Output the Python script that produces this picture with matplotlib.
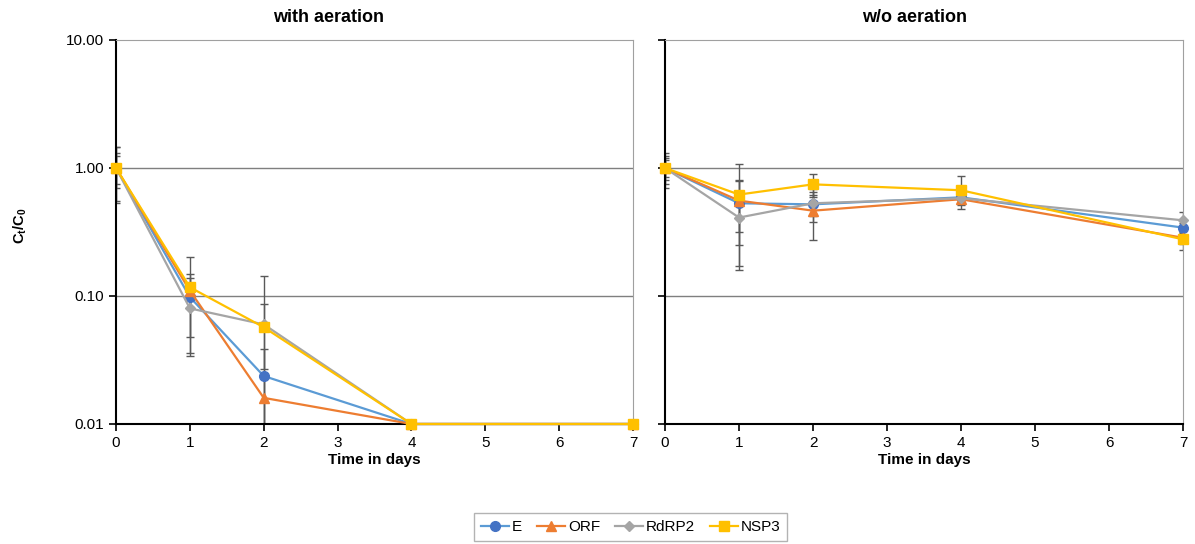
import numpy as np
import matplotlib.pyplot as plt
from matplotlib.ticker import FixedLocator, FixedFormatter, NullLocator

plt.rcParams['font.family'] = ['Liberation Sans', 'DejaVu Sans']
plt.rcParams['mathtext.fontset'] = 'custom'
plt.rcParams['mathtext.bf'] = 'Liberation Sans:bold'
plt.rcParams['mathtext.rm'] = 'Liberation Sans'

days = [0, 1, 2, 4, 7]
genes = ['E', 'ORF', 'RdRP2', 'NSP3']

# with aeration (Ct/C0), 0.01 = below detection
aer_E = [1.0, 0.098, 0.0237, 0.01, 0.01]
aer_ORF = [1.0, 0.110, 0.016, 0.01, 0.01]
aer_RdRP2 = [1.0, 0.080, 0.060, 0.01, 0.01]
aer_NSP3 = [1.0, 0.117, 0.057, 0.01, 0.01]
aer_E_sd = [0.45, 0.050, 0.015, 0, 0]
aer_ORF_sd = [0.30, 0.028, 0.008, 0, 0]
aer_RdRP2_sd = [0.47, 0.044, 0.083, 0, 0]
aer_NSP3_sd = [0.25, 0.083, 0.030, 0, 0]

# w/o aeration
noaer_E = [1.0, 0.53, 0.52, 0.59, 0.342]
noaer_ORF = [1.0, 0.556, 0.464, 0.57, 0.285]
noaer_RdRP2 = [1.0, 0.41, 0.53, 0.58, 0.39]
noaer_NSP3 = [1.0, 0.62, 0.745, 0.67, 0.277]
noaer_E_sd = [0.30, 0.28, 0.10, 0.06, 0.03]
noaer_ORF_sd = [0.25, 0.24, 0.19, 0.06, 0.03]
noaer_RdRP2_sd = [0.20, 0.25, 0.15, 0.06, 0.06]
noaer_NSP3_sd = [0.15, 0.45, 0.15, 0.19, 0.05]

line_cols = ['#5B9BD5', '#ED7D31', '#A5A5A5', '#FFC000']
mark_cols = ['#4472C4', '#ED7D31', '#A5A5A5', '#FFC000']
markers = ['o', '^', 'D', 's']
msizes = [7, 7, 5, 7]

yticks = [0.01, 0.1, 1, 10]
ylabels = ['0.01', '0.10', '1.00', '10.00']

fig = plt.figure(figsize=(11.95, 5.44), dpi=100)
ax1 = fig.add_axes([0.0971, 0.2206, 0.4326, 0.7059])
ax2 = fig.add_axes([0.5565, 0.2206, 0.4335, 0.7059])

panels = [
    (ax1, 'with aeration', 329, [aer_E, aer_ORF, aer_RdRP2, aer_NSP3],
     [aer_E_sd, aer_ORF_sd, aer_RdRP2_sd, aer_NSP3_sd]),
    (ax2, 'w/o aeration', 915, [noaer_E, noaer_ORF, noaer_RdRP2, noaer_NSP3],
     [noaer_E_sd, noaer_ORF_sd, noaer_RdRP2_sd, noaer_NSP3_sd]),
]

handles = []
for ax, title, tx, vals, sds in panels:
    ax.set_yscale('log')
    ax.set_ylim(0.01, 10)
    ax.set_xlim(0, 7)
    for v, s in zip(vals, sds):
        ax.errorbar(days, v, yerr=s, fmt='none', ecolor='#595959',
                    elinewidth=1, capsize=3, capthick=1, zorder=2)
    hs = []
    for v, lc, mc, m, ms, g in zip(vals, line_cols, mark_cols, markers, msizes, genes):
        h, = ax.plot(days, v, color=lc, lw=1.6, marker=m, ms=ms, mfc=mc, mec=mc,
                     label=g, zorder=3, clip_on=False)
        hs.append(h)
    handles = hs
    for yv in [0.1, 1]:
        ax.axhline(yv, color='#7F7F7F', lw=1, zorder=1)
    ax.yaxis.set_major_locator(FixedLocator(yticks))
    ax.yaxis.set_minor_locator(NullLocator())
    ax.set_xticks(range(8))
    ax.spines['top'].set_color('#A0A0A0')
    ax.spines['right'].set_color('#A0A0A0')
    ax.spines['left'].set_linewidth(1.5)
    ax.spines['bottom'].set_linewidth(1.5)
    ax.tick_params(axis='both', direction='out', length=5, width=1.2, labelsize=11)
    fig.text(tx / 1195, 0.967, title, ha='center', va='center',
             fontsize=13, fontweight='bold')
    ax.set_xlabel('Time in days', fontsize=11, fontweight='bold', labelpad=2)

ax1.yaxis.set_major_formatter(FixedFormatter(ylabels))
ax2.tick_params(axis='y', labelleft=False)
ax1.set_ylabel(r'$\mathbf{C_t/C_0}$', fontsize=10.5)
ax1.yaxis.set_label_coords(-0.168, 0.516)

fig.legend(handles=handles, labels=genes, loc='center', bbox_to_anchor=(0.528, 0.031),
           ncol=4, fontsize=11, frameon=True, fancybox=False, edgecolor='#A0A0A0',
           handlelength=1.8, columnspacing=1.0, handletextpad=0.2, borderpad=0.45)

fig.savefig('out.png', dpi=100)
